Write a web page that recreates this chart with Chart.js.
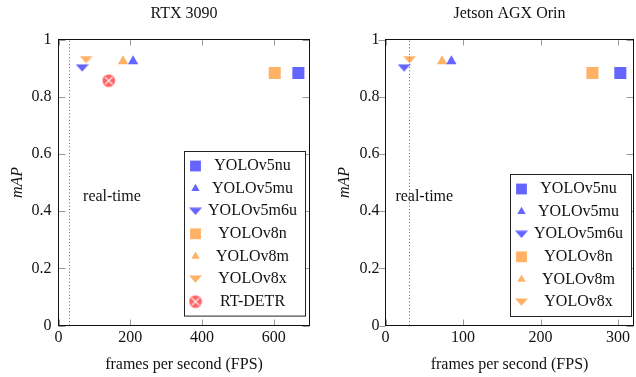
<!DOCTYPE html>
<html>
<head>
<meta charset="utf-8">
<script src="https://cdn.jsdelivr.net/npm/chart.js@4.4.1/dist/chart.umd.min.js"></script>
<style>
html, body { margin: 0; padding: 0; background: #fff; overflow: hidden; }
#wrap { position: relative; width: 636px; height: 377px; overflow: hidden; }
#rtx { position: absolute; left: 0; top: 0; width: 318px; height: 377px; }
#orin { position: absolute; left: 318px; top: 0; width: 324px; height: 377px; }
</style>
</head>
<body>
<div id="wrap">
  <canvas id="rtx" width="318" height="377"></canvas>
  <canvas id="orin" width="324" height="377"></canvas>
</div>
<script>
var models = ['YOLOv5nu', 'YOLOv5mu', 'YOLOv5m6u', 'YOLOv8n', 'YOLOv8m', 'YOLOv8x', 'RT-DETR'];
var mapScores = [0.883, 0.924, 0.901, 0.883, 0.924, 0.930, 0.856];
var fpsRtx3090 = [669, 208, 66, 603, 180, 77, 140];
var fpsOrin = [303, 85, 24, 267, 73, 31]; // RT-DETR not run on the Orin
var xTicksRtx = [0, 200, 400, 600];
var xTicksOrin = [0, 100, 200, 300];
var yTicks = [0, 0.2, 0.4, 0.6, 0.8, 1];
var realTimeFps = 30;

var blue = 'rgb(100, 100, 255)';
var orange = 'rgb(255, 178, 102)';
var red = 'rgb(255, 100, 100)';
var serif = '"Liberation Serif", "Times New Roman", serif';

function downTriangle(color) {
  var c = document.createElement('canvas');
  c.width = 13; c.height = 8;
  var g = c.getContext('2d');
  g.fillStyle = color;
  g.beginPath();
  g.moveTo(0, 0.5); g.lineTo(13, 0.5); g.lineTo(6.5, 7.8);
  g.closePath(); g.fill();
  return c;
}

function otimes(color) {
  var c = document.createElement('canvas');
  c.width = 14; c.height = 14;
  var g = c.getContext('2d');
  g.fillStyle = color;
  g.beginPath(); g.arc(7, 7, 6.3, 0, Math.PI * 2); g.fill();
  g.strokeStyle = '#fff'; g.lineWidth = 1.2;
  var d = 3.7;
  g.beginPath();
  g.moveTo(7 - d, 7 - d); g.lineTo(7 + d, 7 + d);
  g.moveTo(7 + d, 7 - d); g.lineTo(7 - d, 7 + d);
  g.stroke();
  return c;
}

// one marker per model, same order as models
var markers = [
  { shape: 'rect', color: blue, radius: 8.5, legendScale: 0.9 },
  { shape: 'triangle', color: blue, radius: 6, legendScale: 0.8 },
  { shape: downTriangle(blue), color: blue, radius: 6, legendScale: 1 },
  { shape: 'rect', color: orange, radius: 8.5, legendScale: 0.9 },
  { shape: 'triangle', color: orange, radius: 6, legendScale: 0.8 },
  { shape: downTriangle(orange), color: orange, radius: 6, legendScale: 1 },
  { shape: otimes(red), color: red, radius: 6, legendScale: 1 }
];

function drawLegendMarker(ctx, m, x, y) {
  var k = m.legendScale;
  if (typeof m.shape !== 'string') {
    var w = m.shape.width * k, h = m.shape.height * k;
    ctx.drawImage(m.shape, x - w / 2, y - h / 2, w, h);
    return;
  }
  var r = m.radius * k;
  ctx.fillStyle = m.color;
  ctx.beginPath();
  if (m.shape === 'rect') {
    var s = Math.SQRT1_2 * r;
    ctx.rect(x - s, y - s, 2 * s, 2 * s);
  } else {
    ctx.moveTo(x, y - r);
    ctx.lineTo(x + 0.866 * r, y + r / 2);
    ctx.lineTo(x - 0.866 * r, y + r / 2);
    ctx.closePath();
  }
  ctx.fill();
}

// frame, inner ticks, real-time line, title and the boxed legend
var framePlugin = {
  id: 'frame',
  afterDatasetsDraw: function (chart, args, opts) {
    var ctx = chart.ctx, a = chart.chartArea;
    var xs = chart.scales.x, ys = chart.scales.y;
    ctx.save();

    var px = Math.round(xs.getPixelForValue(realTimeFps)) + 0.5;
    ctx.strokeStyle = '#666';
    ctx.lineWidth = 1;
    ctx.setLineDash([1, 2.3]);
    ctx.beginPath();
    ctx.moveTo(px, a.bottom); ctx.lineTo(px, a.top);
    ctx.stroke();
    ctx.setLineDash([]);

    ctx.strokeStyle = '#999';
    ctx.beginPath();
    xs.ticks.forEach(function (t) {
      var p = Math.round(xs.getPixelForValue(t.value)) + 0.5;
      ctx.moveTo(p, a.bottom); ctx.lineTo(p, a.bottom - 6);
      ctx.moveTo(p, a.top); ctx.lineTo(p, a.top + 6);
    });
    ys.ticks.forEach(function (t) {
      var p = Math.round(ys.getPixelForValue(t.value)) + 0.5;
      var d = opts.yTicksOut ? -7 : 7;
      ctx.moveTo(a.left, p); ctx.lineTo(a.left + d, p);
      ctx.moveTo(a.right, p); ctx.lineTo(a.right - 7, p);
    });
    ctx.stroke();

    ctx.strokeStyle = '#111';
    ctx.strokeRect(a.left, a.top, a.right - a.left, a.bottom - a.top);

    ctx.fillStyle = '#111';
    ctx.font = '16px ' + serif;
    ctx.textAlign = 'center';
    ctx.textBaseline = 'middle';
    ctx.fillText(opts.title, (a.left + a.right) / 2, 14);
    ctx.fillText('real-time', xs.getPixelForValue(opts.labelX), ys.getPixelForValue(0.45));

    var n = chart.data.datasets.length;
    var rowH = 22.6, pad = 14.5, bw = 121;
    var bh = pad * 2 + rowH * (n - 1);
    var bx = Math.round(opts.legendRight - bw) + 0.5;
    var by = Math.round(a.bottom - 9.5 - bh) + 0.5;
    ctx.fillStyle = '#fff';
    ctx.fillRect(bx, by, bw, bh);
    ctx.strokeStyle = '#222';
    ctx.strokeRect(bx, by, bw, bh);
    chart.data.datasets.forEach(function (ds, i) {
      var cy = by + pad + i * rowH;
      drawLegendMarker(ctx, markers[i], bx + 11, cy);
      ctx.fillStyle = '#111';
      ctx.fillText(ds.label, bx + 68, cy);
    });
    ctx.restore();
  }
};

function makeChart(id, title, fps, xMax, xTicks, cfg) {
  var datasets = fps.map(function (f, i) {
    var m = markers[i];
    return {
      label: models[i],
      data: [{ x: f, y: mapScores[i] }],
      pointStyle: m.shape,
      pointRadius: m.radius,
      backgroundColor: m.color,
      borderWidth: 0,
      showLine: false
    };
  });
  return new Chart(document.getElementById(id), {
    type: 'scatter',
    data: { datasets: datasets },
    options: {
      responsive: false,
      animation: false,
      layout: { padding: { top: 39.5, right: cfg.padRight, bottom: 0, left: 0 } },
      scales: {
        x: {
          type: 'linear', min: 0, max: xMax,
          afterBuildTicks: function (s) { s.ticks = xTicks.map(function (v) { return { value: v }; }); },
          afterFit: function (s) { s.height = 51.5; },
          grid: { display: false, drawTicks: false },
          border: { display: false },
          ticks: { autoSkip: false, maxRotation: 0, padding: 3, color: '#111', font: { family: serif, size: 16 } },
          title: { display: true, text: 'frames per second (FPS)', color: '#111',
            font: { family: serif, size: 16 }, padding: { top: 0, bottom: 3 } }
        },
        y: {
          type: 'linear', min: 0, max: 1,
          afterBuildTicks: function (s) { s.ticks = yTicks.map(function (v) { return { value: v }; }); },
          afterFit: function (s) { s.width = cfg.yWidth; },
          grid: { display: false, drawTicks: false },
          border: { display: false },
          ticks: { autoSkip: false, padding: cfg.yTickPad, color: '#111', font: { family: serif, size: 16 },
            callback: function (v) { return String(v); } },
          title: { display: true, text: 'mAP', color: '#111',
            font: { family: serif, size: 16, style: 'italic' }, padding: { top: cfg.yTitlePad, bottom: 0 } }
        }
      },
      plugins: {
        legend: { display: false },
        tooltip: { enabled: false },
        frame: { title: title, labelX: cfg.labelX, legendRight: cfg.legendRight, yTicksOut: cfg.yTicksOut }
      }
    },
    plugins: [framePlugin]
  });
}

makeChart('rtx', 'RTX 3090', fpsRtx3090, 700, xTicksRtx,
  { padRight: 6.5, yWidth: 58.5, yTickPad: 7, yTitlePad: 8, labelX: 149, legendRight: 304.5, yTicksOut: false });
makeChart('orin', 'Jetson AGX Orin', fpsOrin, 320, xTicksOrin,
  { padRight: 3.5, yWidth: 67.5, yTickPad: 6, yTitlePad: 17, labelX: 50, legendRight: 312.5, yTicksOut: true });
</script>
</body>
</html>
